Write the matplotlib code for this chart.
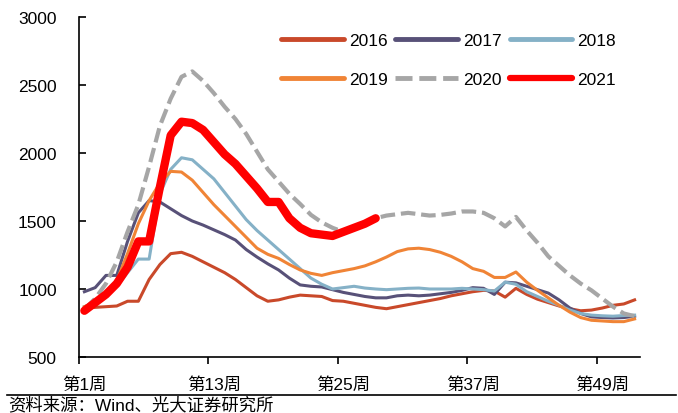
import numpy as np
import matplotlib
matplotlib.use("Agg")
import matplotlib.pyplot as plt

plt.rcParams['font.family'] = ['Liberation Sans', 'Noto Sans CJK SC', 'DejaVu Sans']

weeks = np.arange(1, 53)

y2016 = [860, 865, 870, 875, 910, 910, 1070, 1180, 1260, 1270,
         1240, 1200, 1160, 1120, 1070, 1010, 950, 910, 920, 940,
         955, 950, 945, 915, 910, 895, 880, 865, 855, 870,
         885, 900, 915, 930, 950, 965, 980, 990, 985, 940,
         1005, 960, 925, 900, 875, 855, 840, 845, 860, 880,
         890, 920]
y2017 = [980, 1010, 1100, 1100, 1350, 1560, 1650, 1640, 1590, 1540,
         1500, 1470, 1435, 1400, 1360, 1290, 1235, 1185, 1140, 1080,
         1030, 1020, 1015, 995, 975, 960, 945, 935, 935, 950,
         955, 950, 955, 965, 975, 990, 1010, 1005, 960, 1050,
         1045, 1020, 995, 970, 920, 860, 820, 795, 790, 787,
         790, 800]
y2018 = [870, 900, 950, 1020, 1120, 1220, 1220, 1700, 1880, 1965,
         1950, 1880, 1810, 1710, 1610, 1510, 1430, 1360, 1290, 1220,
         1150, 1080, 1035, 1000, 1010, 1020, 1007, 1000, 995, 1000,
         1005, 1007, 1000, 1000, 1000, 1005, 1000, 995, 985, 1050,
         1035, 980, 945, 910, 880, 845, 820, 808, 803, 800,
         805, 808]
y2019 = [870, 900, 960, 1060, 1260, 1480, 1650, 1780, 1865, 1860,
         1800, 1710, 1620, 1540, 1460, 1380, 1300, 1255, 1225, 1180,
         1140, 1115, 1100, 1120, 1135, 1150, 1170, 1200, 1235, 1275,
         1295, 1300, 1290, 1270, 1240, 1200, 1150, 1130, 1085, 1085,
         1125, 1050, 990, 935, 880, 830, 790, 770, 765, 760,
         760, 780]
y2020 = [850, 930, 1040, 1200, 1420, 1620, 1900, 2200, 2400, 2560,
         2600, 2530, 2440, 2340, 2250, 2140, 2010, 1880, 1790, 1700,
         1625, 1545, 1490, 1450, 1420, 1440, 1480, 1520, 1540, 1550,
         1560, 1550, 1540, 1545, 1555, 1570, 1570, 1560, 1520, 1460,
         1530, 1430, 1340, 1240, 1170, 1100, 1040, 990, 930, 870,
         820, 800]
y2021 = [840, 900, 960, 1040, 1160, 1350, 1350, 1750, 2130, 2230,
         2220, 2170, 2080, 1990, 1920, 1830, 1740, 1640, 1640, 1520,
         1450, 1410, 1400, 1390, 1420, 1450, 1480, 1520]

tick_weeks = [1, 13, 25, 37, 49]
tick_labels = ['第1周', '第13周', '第25周', '第37周', '第49周']

fig = plt.figure(figsize=(6.78, 4.14), dpi=100)
ax = fig.add_axes([79 / 678, 56 / 414, 561 / 678, 340 / 414])

l16, = ax.plot(weeks, y2016, color='#C9492A', lw=2.2, label='2016')
l17, = ax.plot(weeks, y2017, color='#585178', lw=2.2, label='2017')
l18, = ax.plot(weeks, y2018, color='#85B1C7', lw=2.2, label='2018')
l19, = ax.plot(weeks, y2019, color='#F08436', lw=2.2, label='2019')
l20, = ax.plot(weeks, y2020, color='#A6A6A6', lw=3, ls=(0, (3.5, 1.4)), label='2020')
l21, = ax.plot(weeks[:len(y2021)], y2021, color='#FF0000', lw=6,
               solid_capstyle='round', solid_joinstyle='round', label='2021')

ax.set_xlim(0.5, 52.5)
ax.set_ylim(500, 3000)
ax.set_yticks(range(500, 3001, 500))
ax.tick_params(axis='y', direction='in', length=5, width=1.2, pad=16, labelsize=12.5)

# ticks between categories, labels on the weeks
ax.set_xticks([w - 0.5 for w in tick_weeks])
ax.set_xticklabels([])
ax.set_xticks(tick_weeks, minor=True)
ax.set_xticklabels(tick_labels, minor=True)
ax.tick_params(axis='x', which='major', direction='out', length=5, width=1.2)
ax.tick_params(axis='x', which='minor', length=0, pad=14, labelsize=12.5)

for s in ['top', 'right']:
    ax.spines[s].set_visible(False)
for s in ['left', 'bottom']:
    ax.spines[s].set_linewidth(1.2)

leg = ax.legend([l16, l19, l17, l20, l18, l21],
                ['2016', '2019', '2017', '2020', '2018', '2021'],
                ncol=3, frameon=False, fontsize=12.5, handlelength=3.6,
                handletextpad=0.3, columnspacing=0.45, labelspacing=1.4,
                loc='upper right', bbox_to_anchor=(0.985, 1.0))
for h in leg.get_lines():
    h.set_linewidth(3.5)
    h.set_solid_capstyle('round')
leg.get_lines()[5].set_linewidth(4.5)

fig.add_artist(plt.Line2D([7 / 678, 676 / 678], [18 / 414, 18 / 414],
                          color='black', lw=1.2))
fig.text(8 / 678, 9 / 414, '资料来源：Wind、光大证券研究所', fontsize=12.5, va='center')

fig.savefig('out.png', dpi=100)
